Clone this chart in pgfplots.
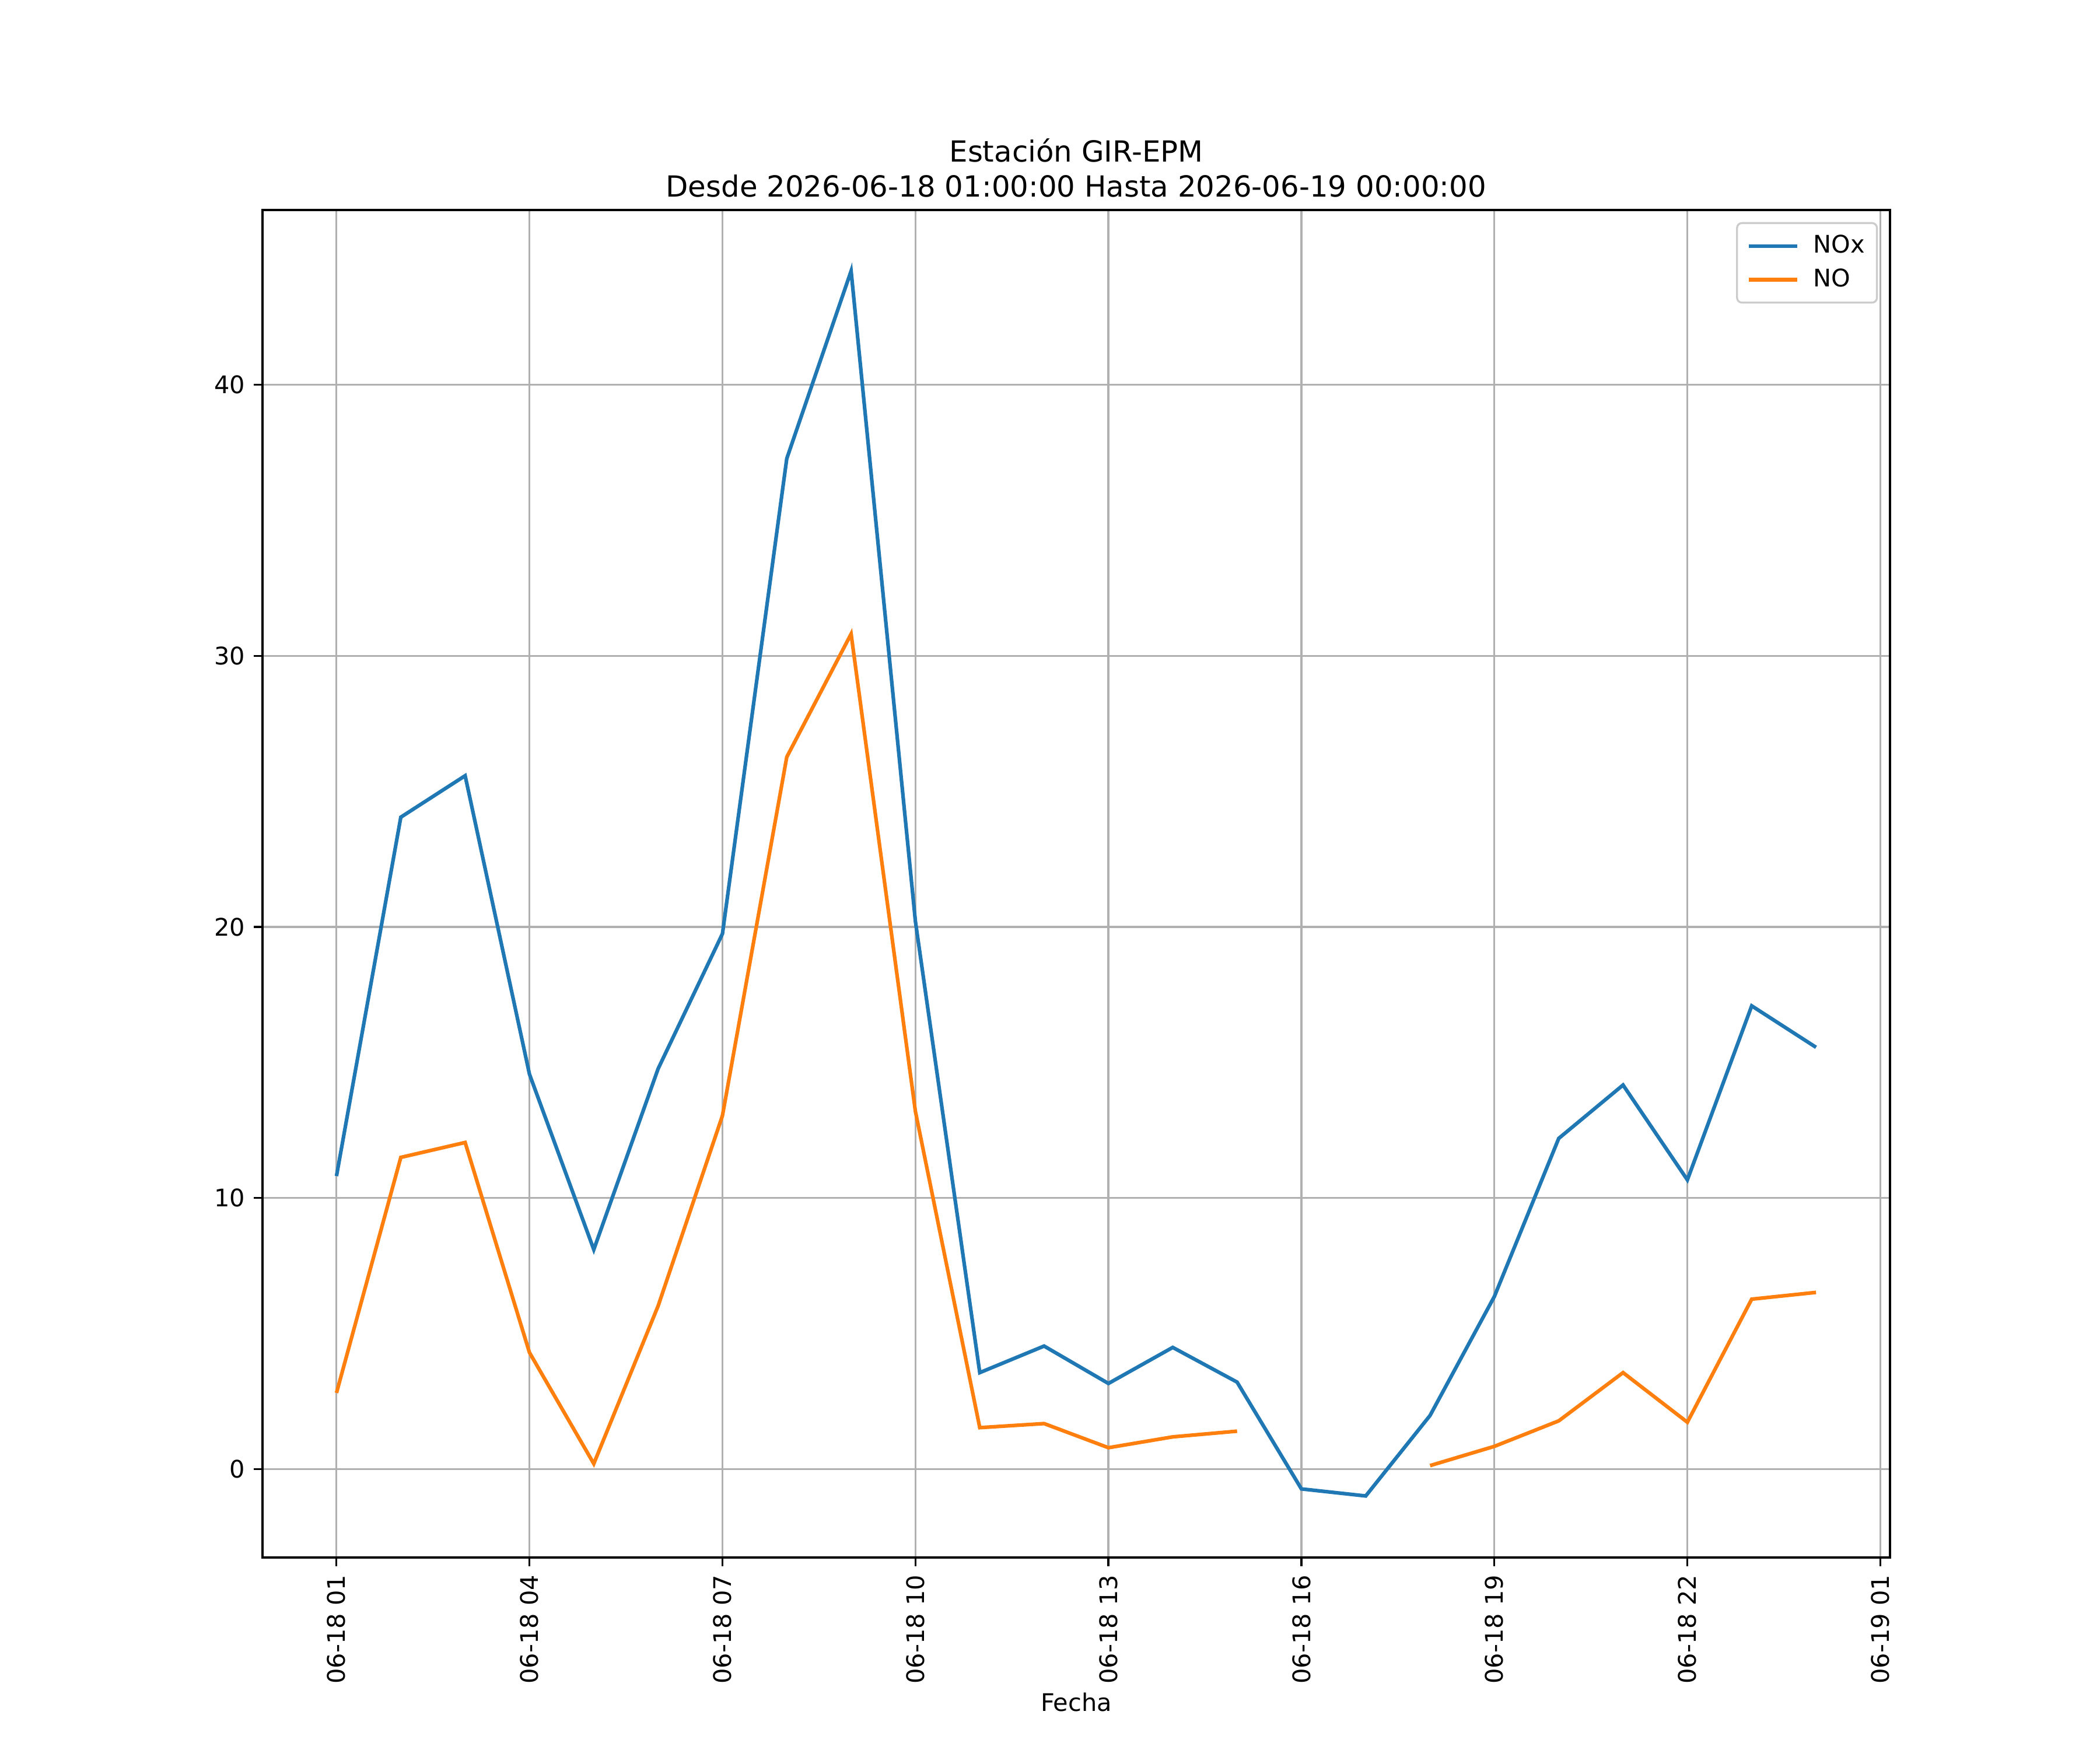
\documentclass[border=0pt]{standalone}
\usepackage{pgfplots}
\pgfplotsset{compat=1.18}
\usepackage{fontspec}
\setmainfont{DejaVu Sans}
\definecolor{c1}{HTML}{1F77B4}
\definecolor{c2}{HTML}{FF7F0E}
\definecolor{gridc}{HTML}{B0B0B0}
\begin{document}
\begin{tikzpicture}
\useasboundingbox (0,0) rectangle (12in,10in);
\begin{axis}[
  at={(1.5in,1.1in)}, anchor=south west,
  scale only axis, width=9.3in, height=7.7in,
  xmin=-1.15, xmax=24.15, ymin=-3.26, ymax=46.45,
  xtick={0,3,6,9,12,15,18,21,24},
  xticklabels={06-18 01,06-18 04,06-18 07,06-18 10,06-18 13,06-18 16,06-18 19,06-18 22,06-19 01},
  ytick={0,10,20,30,40},
  xtick pos=bottom, ytick pos=left,
  xticklabel style={rotate=90, anchor=east, inner sep=0pt, xshift=0pt},
  yticklabel style={anchor=east, inner sep=0pt, xshift=-3.5pt},
  xticklabel shift=3.5pt,
  tick align=outside, major tick length=3.5pt,
  tick style={black, line width=0.8pt},
  axis line style={line width=0.8pt},
  grid=major, major grid style={gridc, line width=0.8pt},
  tick label style={font=\fontsize{10}{12}\selectfont},
  /pgf/number format/assume math mode=true,
  xlabel={Fecha}, xlabel style={font=\fontsize{10}{12}\selectfont, inner sep=0pt, yshift=-3.5pt},
  title={Estación GIR-EPM\\Desde 2026-06-18 01:00:00 Hasta 2026-06-19 00:00:00},
  title style={font=\fontsize{12}{14.4}\selectfont, align=center, at={(0.5,1)}, anchor=south, inner sep=0pt, yshift=-1pt},
  unbounded coords=jump,
  legend style={at={(1,1)}, anchor=north east, xshift=-5pt, yshift=-5pt,
    draw=black!20, rounded corners=2pt, line width=0.8pt,
    font=\fontsize{10}{12}\selectfont, inner sep=3pt, row sep=1pt},
  legend cell align=left,
  legend image code/.code={\draw[#1] (0pt,0pt) -- (20pt,0pt); \path (-1pt,0pt) (24pt,0pt);},
]
\addplot[c1, line width=1.5pt] coordinates {
(0,10.81) (1,24.05) (2,25.58) (3,14.57) (4,8.10) (5,14.77) (6,19.75) (7,37.28)
(8,44.2) (9,20.2) (10,3.56) (11,4.54) (12,3.16) (13,4.49) (14,3.21) (15,-0.73)
(16,-0.99) (17,1.98) (18,6.37) (19,12.2) (20,14.17) (21,10.67) (22,17.09) (23,15.56)};
\addlegendentry{NOx}
\addplot[c2, line width=1.5pt] coordinates {
(0,2.81) (1,11.5) (2,12.05) (3,4.30) (4,0.2) (5,6.02) (6,13.04) (7,26.27)
(8,30.81) (9,13.19) (10,1.53) (11,1.68) (12,0.79) (13,1.19) (14,1.40) (15,nan)
(16,nan) (17,0.13) (18,0.84) (19,1.78) (20,3.56) (21,1.73) (22,6.27) (23,6.52)};
\addlegendentry{NO}
\end{axis}
\end{tikzpicture}
\end{document}
